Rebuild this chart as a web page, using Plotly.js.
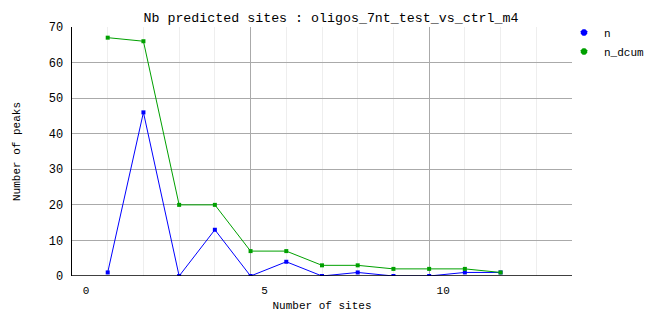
<!DOCTYPE html>
<html><head><meta charset="utf-8">
<script src="https://cdn.plot.ly/plotly-3.0.1.min.js"></script>
<style>html,body{margin:0;padding:0;background:#fff}</style>
</head><body><div id="chart" style="width:662px;height:328px"></div>
<script>
const sites = [1,2,3,4,5,6,7,8,9,10,11,12];
const nVals = [1,46,0,13,0,4,0,1,0,0,1,1];
const nDcum = [67,66,20,20,7,7,3,3,2,2,2,1];
const xTicks = [0,5,10];
const yTicks = [0,10,20,30,40,50,60,70];
const seriesNames = ['n','n_dcum'];
const colors = ['#0000ff','#00a000'];

const FONT = '"Liberation Mono", "DejaVu Sans Mono", monospace';

const traces = [
  {x:sites, y:nVals, name:seriesNames[0], mode:'lines+markers', showlegend:false,
   line:{color:colors[0],width:1}, marker:{symbol:'square',size:4,color:colors[0]}},
  {x:sites, y:nDcum, name:seriesNames[1], mode:'lines+markers', showlegend:false,
   line:{color:colors[1],width:1}, marker:{symbol:'square',size:4,color:colors[1]}},
  {x:[null], y:[null], name:seriesNames[0], mode:'markers', showlegend:true,
   marker:{symbol:'octagon',size:7,color:colors[0]}},
  {x:[null], y:[null], name:seriesNames[1], mode:'markers', showlegend:true,
   marker:{symbol:'octagon',size:7,color:colors[1]}}
];

const layout = {
  width:662, height:328,
  margin:{l:72, r:90, t:27, b:52},
  paper_bgcolor:'#fff', plot_bgcolor:'#fff',
  font:{family:FONT, size:11, color:'#000'},
  title:{text:'Nb predicted sites : oligos_7nt_test_vs_ctrl_m4',
         font:{family:FONT,size:13.3,color:'#000',weight:'normal'},
         x:0.5, xanchor:'center', y:1-17/328, yanchor:'middle'},
  xaxis:{range:[0,14], tickvals:xTicks, ticktext:xTicks.map(String), ticks:'',
         showgrid:true, gridcolor:'#aaaaaa', gridwidth:1,
         minor:{dtick:1, showgrid:true, gridcolor:'#eeeeee', gridwidth:1},
         zeroline:false, showline:false, ticklabelshift:14, ticklabelstandoff:6,
         title:{text:'Number of sites', font:{family:FONT,size:11}, standoff:5},
         tickfont:{family:FONT,size:11}},
  yaxis:{range:[0,70], tickvals:yTicks, ticks:'', showgrid:true, gridcolor:'#aaaaaa', gridwidth:1,
         zeroline:false, showline:true, linecolor:'#000', linewidth:1.5, ticklabelstandoff:5,
         title:{text:'Number of peaks', font:{family:FONT,size:11}, standoff:26},
         tickfont:{family:FONT,size:12}},
  shapes:[
    {type:'line', xref:'paper', yref:'y', x0:0, x1:1, y0:0, y1:0, line:{color:'#000',width:1.5}}
  ],
  legend:{x:1+(564-572)/500, xanchor:'left', y:1+9/249, yanchor:'top', font:{family:FONT,size:11},
          itemwidth:30, tracegroupgap:0, bgcolor:'rgba(0,0,0,0)'},
  showlegend:true
};

Plotly.newPlot('chart', traces, layout, {displayModeBar:false, staticPlot:true});
</script></body></html>
